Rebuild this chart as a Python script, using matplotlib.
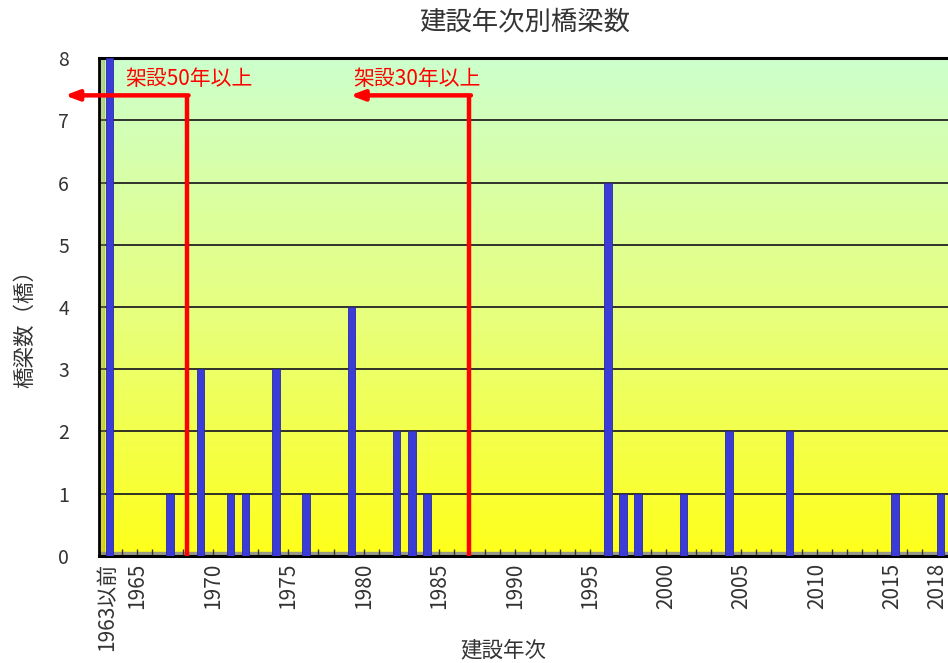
import numpy as np
import matplotlib
matplotlib.use("Agg")
import matplotlib.pyplot as plt
from matplotlib.colors import LinearSegmentedColormap

plt.rcParams['font.family'] = ['Noto Sans CJK JP', 'DejaVu Sans']

# ---- data ----
categories = ["1963以前"] + [str(y) for y in range(1964, 2019)]
counts_by_year = {
    "1963以前": 8, "1967": 1, "1969": 3, "1971": 1, "1972": 1, "1974": 3,
    "1976": 1, "1979": 4, "1982": 2, "1983": 2, "1984": 1, "1996": 6,
    "1997": 1, "1998": 1, "2001": 1, "2004": 2, "2008": 2, "2015": 1, "2018": 1,
}
values = [counts_by_year.get(c, 0) for c in categories]
tick_labels_shown = ["1963以前", "1965", "1970", "1975", "1980", "1985", "1990",
                     "1995", "2000", "2005", "2010", "2015", "2018"]
title = "建設年次別橋梁数"
ylabel = "橋梁数（橋）"
xlabel = "建設年次"
ann50_text = "架設50年以上"
ann30_text = "架設30年以上"

# ---- figure ----
fig = plt.figure(figsize=(9.48, 6.63), dpi=100)
ax = fig.add_axes([0.1049, 0.1614, 0.908, 0.7511])
x = np.arange(len(categories))
ax.set_xlim(-0.5, 56.5)
ax.set_ylim(0, 8)

# gradient background
cmap = LinearSegmentedColormap.from_list("bg", ["#ffff1a", "#e6ff80", "#ccffcc"])
grad = np.linspace(0, 1, 256).reshape(-1, 1)
ax.imshow(grad, aspect="auto", cmap=cmap, origin="lower",
          extent=(-0.5, 56.5, 0, 8), zorder=0)

# grid
for yv in range(1, 8):
    ax.axhline(yv, color="#222222", lw=1.3, zorder=1)

# floor strip
ax.axhspan(0, 0.07, color="#9a9a8a", zorder=1.5)

# bars
ax.bar(x + 0.18, values, width=0.5, color="#3b3bd8", edgecolor="#2a2aa0",
       linewidth=0.6, zorder=3)

# left wall
ax.axvspan(-0.5, -0.2, color="#8c8c40", alpha=0.35, zorder=2)

# axes styling
ax.spines["right"].set_visible(False)
ax.spines["top"].set_linewidth(2.2)
ax.spines["left"].set_linewidth(2.0)
ax.spines["bottom"].set_linewidth(2.2)

ax.set_yticks(range(0, 9))
ax.tick_params(axis="y", length=0, labelsize=14, pad=22, labelcolor="#333333")

shown_idx = [categories.index(c) for c in tick_labels_shown]
ax.set_xticks(shown_idx)
ax.set_xticklabels(tick_labels_shown, rotation=90, fontsize=15, color="#333333")
ax.set_xticks(x, minor=True)
ax.tick_params(axis="x", which="both", direction="in", length=5, width=1,
               color="#333333", pad=5)

fig.text(525 / 948, 1 - 22 / 663, title, fontsize=19, color="#333333",
         ha="center", va="center")
fig.text(25 / 948, 1 - 324 / 663, ylabel, fontsize=15.5, color="#333333",
         ha="center", va="center", rotation=90)
fig.text(503 / 948, 1 - 650 / 663, xlabel, fontsize=15.5, color="#333333",
         ha="center", va="center")

# annotations (red arrows)
y_arrow = 7.4
red = "#ff0000"
for vx, tx in [(5.3, -2.8), (24.0, 16.1)]:
    ax.plot([vx, vx], [0, y_arrow], color=red, lw=3.2, zorder=4,
            solid_capstyle="butt", clip_on=False)
    ax.annotate("", xy=(tx, y_arrow), xytext=(vx + 0.1, y_arrow),
                arrowprops=dict(arrowstyle="-|>,head_length=0.8,head_width=0.3",
                                color=red, lw=3.2, shrinkA=0, shrinkB=0),
                zorder=4, annotation_clip=False)

ax.text(1.2, 7.66, ann50_text, color=red, fontsize=15, va="center", ha="left", zorder=5)
ax.text(16.3, 7.66, ann30_text, color=red, fontsize=15, va="center", ha="left", zorder=5)

fig.savefig("out.png", dpi=100)
